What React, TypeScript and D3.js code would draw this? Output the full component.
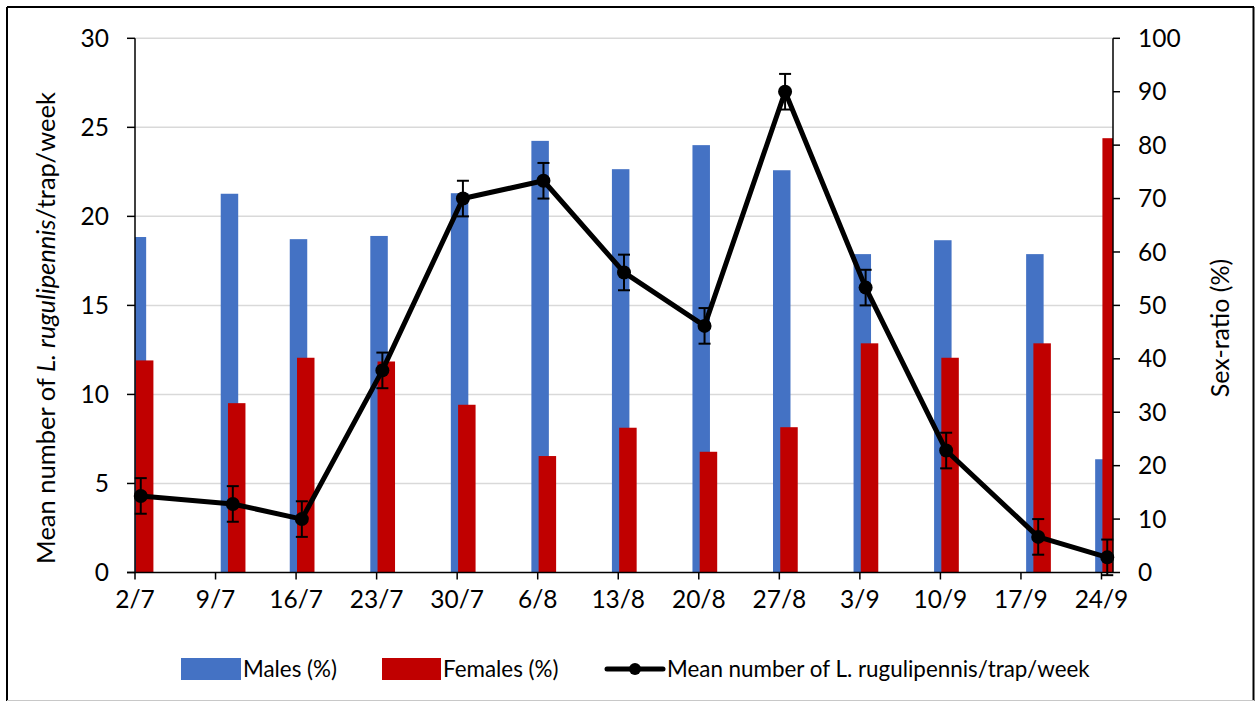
import React from "react";
import * as d3 from "d3";

const dates = ["2019-07-02","2019-07-10","2019-07-16","2019-07-23","2019-07-30","2019-08-06","2019-08-13","2019-08-20","2019-08-27","2019-09-03","2019-09-10","2019-09-18","2019-09-24"];
const males = [62.8, 70.9, 62.4, 63.0, 71.0, 80.8, 75.5, 80.0, 75.3, 59.6, 62.2, 59.6, 21.2];
const females = [39.7, 31.7, 40.2, 39.5, 31.4, 21.8, 27.1, 22.6, 27.2, 42.9, 40.2, 42.9, 81.3];
const meanCount = [4.3, 3.85, 3.0, 11.35, 21.0, 22.0, 16.85, 13.85, 27.0, 16.0, 6.85, 2.0, 0.85];
const errors = [1, 1, 1, 1, 1, 1, 1, 1, 1, 1, 1, 1, 1];
const leftTicks = [0, 5, 10, 15, 20, 25, 30];
const rightTicks = [0, 10, 20, 30, 40, 50, 60, 70, 80, 90, 100];

const FONT = "Lato, 'Open Sans', sans-serif";

export default function App() {
  const W = 1256, H = 702;
  const left = 135, right = 1113, top = 38.3, bottom = 572.5;
  const parse = d3.utcParse("%Y-%m-%d");
  const ds = dates.map((d) => parse(d) as Date);
  const start = ds[0];
  const end = d3.utcDay.offset(ds[ds.length - 1], 1);
  const x = d3.scaleUtc().domain([start, end]).range([left, right]);
  const dayW = x(d3.utcDay.offset(start, 1)) - x(start);
  const cx = (d: Date) => x(d) + dayW / 2;
  const yL = d3.scaleLinear().domain([0, 30]).range([bottom, top]);
  const yR = d3.scaleLinear().domain([0, 100]).range([bottom, top]);
  const xTicks = d3.utcDay.range(start, end, 1).filter((_, i) => i % 7 === 0);
  const fmt = d3.utcFormat("%-d/%-m");
  const barW = 1.52 * dayW;
  const line = d3.line<number>().x((_, i) => cx(ds[i])).y((v) => yL(v));

  return (
    <svg width={W} height={H} style={{ position: "absolute", left: 0, top: 0, background: "#fff" }}>
      <defs>
        <clipPath id="plot">
          <rect x={left} y={0} width={right - left} height={bottom} />
        </clipPath>
      </defs>
      <rect x={0} y={0} width={W} height={H} fill="#fff" />
      {/* border */}
      <line x1={7} y1={7} x2={1254} y2={7} stroke="#000" strokeWidth={2} />
      <line x1={7} y1={7} x2={7} y2={701} stroke="#000" strokeWidth={2} />
      <line x1={1253.5} y1={7} x2={1253.5} y2={701} stroke="#000" strokeWidth={2} />
      <line x1={7} y1={700.5} x2={1254} y2={700.5} stroke="#c8c8c8" strokeWidth={1} />

      {/* gridlines */}
      {leftTicks.filter((t) => t > 0).map((t) => (
        <line key={t} x1={left} x2={right} y1={yL(t)} y2={yL(t)} stroke="#d9d9d9" strokeWidth={1.5} />
      ))}

      {/* bars */}
      <g clipPath="url(#plot)">
        {ds.map((d, i) => (
          <rect key={"m" + i} x={cx(d) - 1.05 * dayW} y={yR(males[i])} width={barW} height={bottom - yR(males[i])} fill="#4472c4" />
        ))}
        {ds.map((d, i) => (
          <rect key={"f" + i} x={cx(d) - 0.42 * dayW} y={yR(females[i])} width={barW} height={bottom - yR(females[i])} fill="#c00000" />
        ))}
      </g>

      {/* axes */}
      <line x1={left} x2={left} y1={top} y2={bottom} stroke="#000" strokeWidth={1.5} />
      <line x1={right} x2={right} y1={top} y2={bottom} stroke="#000" strokeWidth={1.5} />
      <line x1={left - 8} x2={right} y1={bottom} y2={bottom} stroke="#000" strokeWidth={1.5} />
      {leftTicks.map((t) => (
        <g key={"l" + t}>
          <line x1={left - 8} x2={left} y1={yL(t)} y2={yL(t)} stroke="#000" strokeWidth={1.5} />
          <text x={109} y={yL(t)} dy="0.35em" textAnchor="end" fontFamily={FONT} fontSize={24.5} fill="#000">{t}</text>
        </g>
      ))}
      {rightTicks.map((t) => (
        <g key={"r" + t}>
          <line x1={right} x2={right + 7} y1={yR(t)} y2={yR(t)} stroke="#000" strokeWidth={1.5} />
          <text x={1138} y={yR(t)} dy="0.35em" textAnchor="start" fontFamily={FONT} fontSize={24.5} fill="#000">{t}</text>
        </g>
      ))}
      {xTicks.map((t, i) => (
        <g key={"x" + i}>
          <line x1={x(t)} x2={x(t)} y1={bottom} y2={bottom + 7} stroke="#000" strokeWidth={1.5} />
          <text x={x(t)} y={608} textAnchor="middle" fontFamily={FONT} fontSize={24.5} fill="#000">{fmt(t)}</text>
        </g>
      ))}

      {/* axis titles */}
      <text transform={`translate(55,328) rotate(-90)`} textAnchor="middle" fontFamily={FONT} fontSize={25.5} fill="#000">
        Mean number of <tspan fontStyle="italic">L. rugulipennis</tspan>/trap/week
      </text>
      <text transform={`translate(1229,328) rotate(-90)`} textAnchor="middle" fontFamily={FONT} fontSize={25} fill="#000">
        Sex-ratio (%)
      </text>

      {/* error bars */}
      {ds.map((d, i) => {
        const c = cx(d);
        const y1 = yL(meanCount[i] + errors[i]);
        const y2 = yL(meanCount[i] - errors[i]);
        return (
          <g key={"e" + i} stroke="#000" strokeWidth={2}>
            <line x1={c} x2={c} y1={y1} y2={y2} />
            <line x1={c - 6} x2={c + 6} y1={y1} y2={y1} />
            <line x1={c - 6} x2={c + 6} y1={y2} y2={y2} />
          </g>
        );
      })}
      <path d={line(meanCount) || ""} fill="none" stroke="#000" strokeWidth={5} strokeLinejoin="round" />
      {ds.map((d, i) => (
        <circle key={"c" + i} cx={cx(d)} cy={yL(meanCount[i])} r={7} fill="#000" />
      ))}

      {/* legend */}
      <rect x={181} y={658} width={60} height={22} fill="#4472c4" />
      <text x={243} y={677} fontFamily={FONT} fontSize={22.4} fill="#000">Males (%)</text>
      <rect x={382} y={658} width={59} height={22} fill="#c00000" />
      <text x={443} y={677} fontFamily={FONT} fontSize={22.4} fill="#000">Females (%)</text>
      <line x1={607} x2={663} y1={669} y2={669} stroke="#000" strokeWidth={5} strokeLinecap="round" />
      <circle cx={635} cy={669} r={6} fill="#000" />
      <text x={667} y={677} fontFamily={FONT} fontSize={22.4} fill="#000">Mean number of L. rugulipennis/trap/week</text>
    </svg>
  );
}
